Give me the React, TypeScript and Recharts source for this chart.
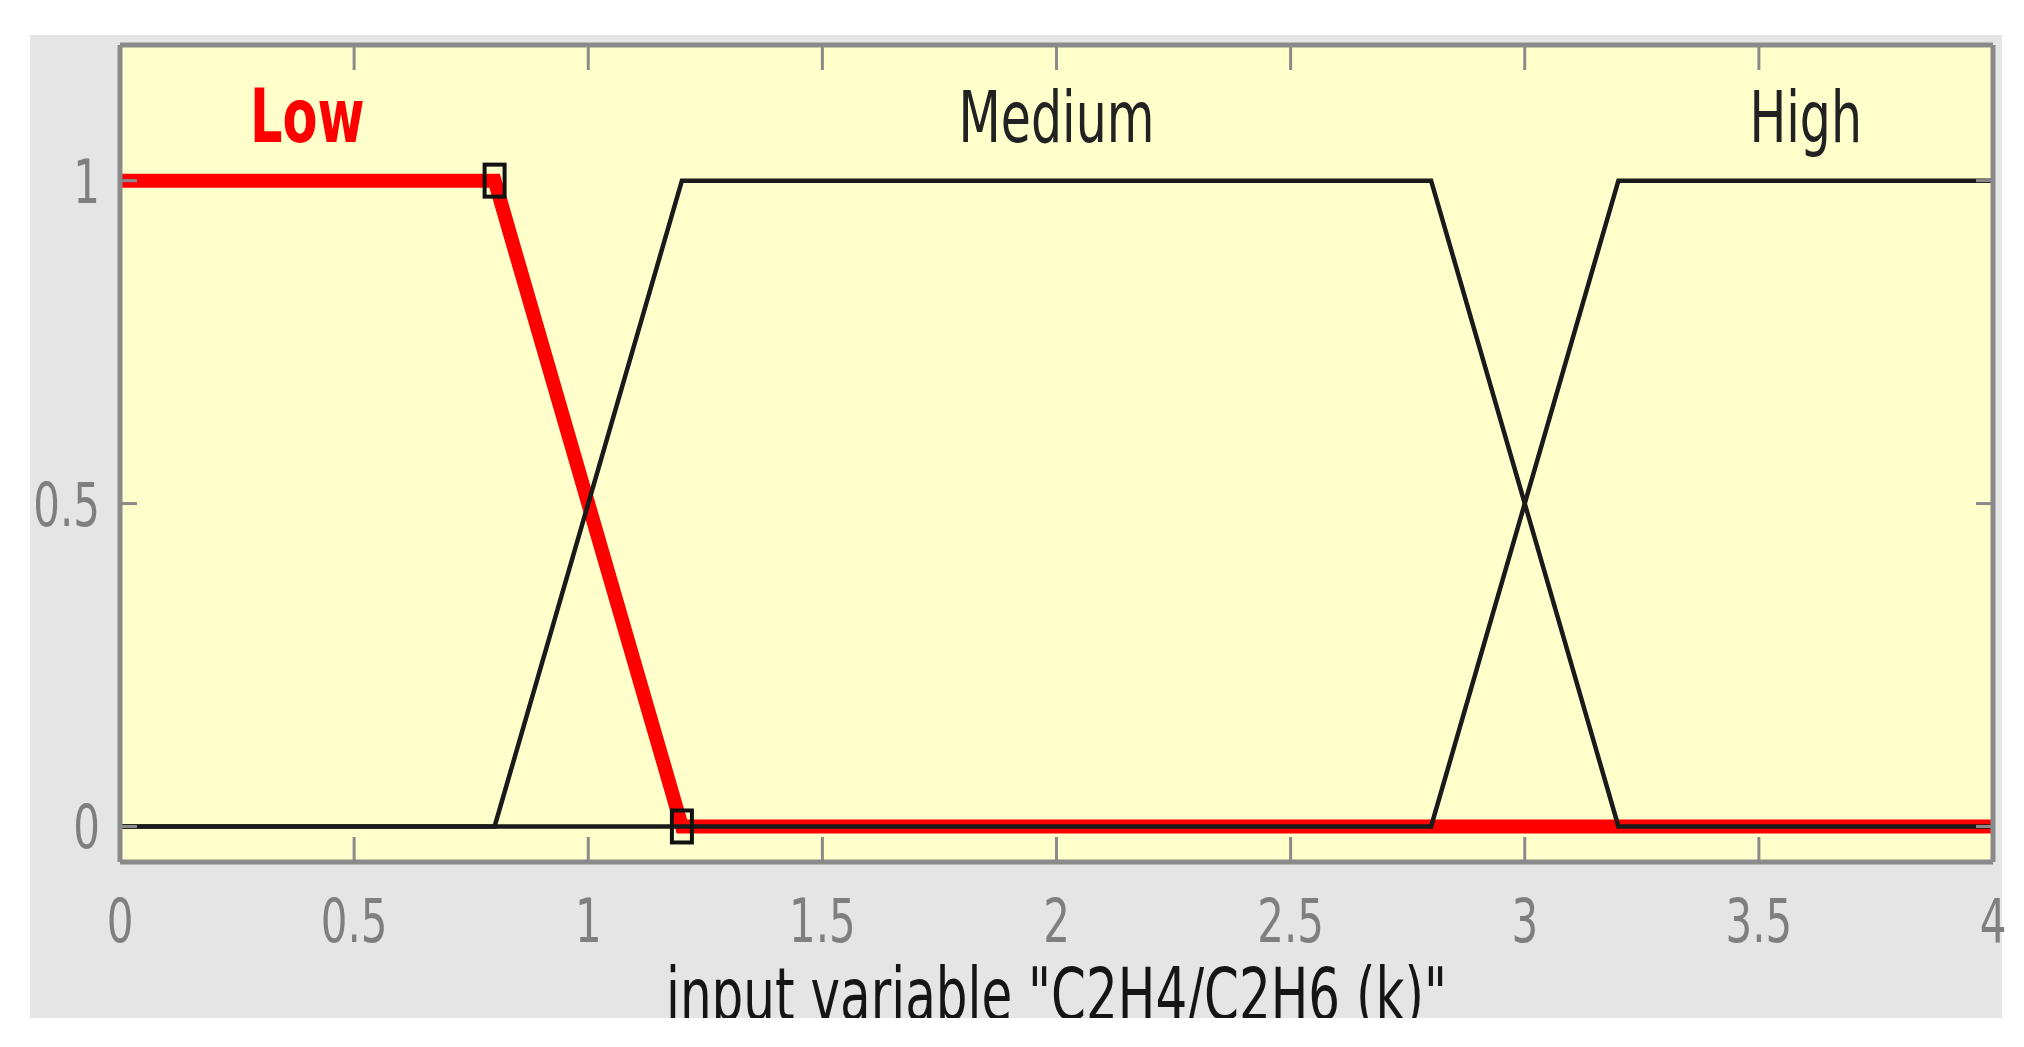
import React from 'react';
import { LineChart, Line, XAxis, YAxis, CartesianGrid, ReferenceDot, Label } from 'recharts';

// membership functions of input variable C2H4/C2H6 (k)
const xTicks = [0, 0.5, 1, 1.5, 2, 2.5, 3, 3.5, 4];
const yTicks = [0, 0.5, 1];

const lowX = [0, 0.8, 1.2, 4];
const lowY = [1, 1, 0, 0];
const mediumX = [0, 0.8, 1.2, 2.8, 3.2, 4];
const mediumY = [0, 0, 1, 1, 0, 0];
const highX = [0, 2.8, 3.2, 4];
const highY = [0, 0, 1, 1];

const mfNames = ['Low', 'Medium', 'High'];
const mfCenters = [0.4, 2, 3.6];
const labelLevel = 1.1;
const lowMarked = [1, 2];

const toPoints = (xs: number[], ys: number[]) => xs.map((x, i) => ({ x, y: ys[i] }));
const lowData = toPoints(lowX, lowY);
const mediumData = toPoints(mediumX, mediumY);
const highData = toPoints(highX, highY);

const FONT = '"DejaVu Sans", sans-serif';
const SY = 1.45; // source picture is stretched vertically
const BORDER = '#8a8a8a';
const TICK_TEXT = '#7f7f7f';

const StretchText = ({ x, y, size, fill, anchor = 'middle', weight = 'normal', children }: any) => (
  <text
    transform={`translate(${x},${y}) scale(1,${SY})`}
    x={0}
    y={0}
    textAnchor={anchor}
    fontSize={size}
    fontFamily={FONT}
    fontWeight={weight}
    fill={fill}
  >
    {children}
  </text>
);

const BottomTick = ({ x, y, payload }: any) => (
  <g>
    <line x1={x} y1={y} x2={x} y2={y - 25} stroke={BORDER} strokeWidth={3} />
    <StretchText x={x} y={y + 80} size={42} fill={TICK_TEXT}>
      {payload.value}
    </StretchText>
  </g>
);

const TopTick = ({ x, y }: any) => <line x1={x} y1={y} x2={x} y2={y + 25} stroke={BORDER} strokeWidth={3} />;

const LeftTick = ({ x, y, payload }: any) => (
  <g>
    <line x1={x} y1={y} x2={x + 17} y2={y} stroke={BORDER} strokeWidth={3} />
    <StretchText x={x - 20} y={y + 22} size={42} fill={TICK_TEXT} anchor="end">
      {payload.value}
    </StretchText>
  </g>
);

const RightTick = ({ x, y }: any) => <line x1={x} y1={y} x2={x - 17} y2={y} stroke={BORDER} strokeWidth={3} />;

// the axis title is clipped by the bottom of the figure, as in the source
const renderTitle = (props: any) => {
  const vb = props.viewBox;
  return (
    <StretchText x={vb.x + vb.width / 2} y={vb.y + 158} size={50} fill="#151515">
      input variable "C2H4/C2H6 (k)"
    </StretchText>
  );
};

const renderMarker = (props: any) => {
  const { cx, cy, index } = props;
  if (!lowMarked.includes(index)) return <g key={`m-${index}`} />;
  return (
    <rect
      key={`m-${index}`}
      x={cx - 10}
      y={cy - 16}
      width={20}
      height={32}
      fill="none"
      stroke="#111"
      strokeWidth={4}
    />
  );
};

const App = () => {
  return (
    <div style={{ position: 'absolute', left: 0, top: 0, width: 2024, height: 1047, background: '#fff' }}>
      <div style={{ position: 'absolute', left: 30, top: 35, width: 1972, height: 983, background: '#e5e5e5' }} />
      <div style={{ position: 'absolute', left: 0, top: 0 }}>
        <LineChart width={2024} height={1018} margin={{ top: 40, right: 21, bottom: 56, left: 20 }}>
          <CartesianGrid xAxisId="x" yAxisId="y" horizontal={false} vertical={false} fill="#ffffcc" />
          <XAxis
            xAxisId="x"
            type="number"
            dataKey="x"
            domain={[0, 4]}
            ticks={xTicks}
            allowDataOverflow
            height={100}
            tickSize={0}
            tickMargin={0}
            tickLine={false}
            tick={<BottomTick />}
            axisLine={{ stroke: BORDER, strokeWidth: 5 }}
            interval={0}
          >
            <Label content={renderTitle} />
          </XAxis>
          <XAxis
            xAxisId="xt"
            orientation="top"
            type="number"
            dataKey="x"
            domain={[0, 4]}
            ticks={xTicks}
            allowDataOverflow
            height={5}
            tickSize={0}
            tickMargin={0}
            tickLine={false}
            tick={<TopTick />}
            axisLine={{ stroke: BORDER, strokeWidth: 5 }}
            interval={0}
          />
          <YAxis
            yAxisId="y"
            type="number"
            domain={[-0.055, 1.21]}
            ticks={yTicks}
            allowDataOverflow
            width={100}
            tickSize={0}
            tickMargin={0}
            tickLine={false}
            tick={<LeftTick />}
            axisLine={{ stroke: BORDER, strokeWidth: 5 }}
            interval={0}
          />
          <YAxis
            yAxisId="yr"
            orientation="right"
            type="number"
            domain={[-0.055, 1.21]}
            ticks={yTicks}
            allowDataOverflow
            width={10}
            tickSize={0}
            tickMargin={0}
            tickLine={false}
            tick={<RightTick />}
            axisLine={{ stroke: BORDER, strokeWidth: 5 }}
            interval={0}
          />
          <Line
            xAxisId="x"
            yAxisId="y"
            data={lowData}
            dataKey="y"
            type="linear"
            stroke="#ff0000"
            strokeWidth={14}
            dot={false}
            isAnimationActive={false}
          />
          <Line
            xAxisId="x"
            yAxisId="y"
            data={mediumData}
            dataKey="y"
            type="linear"
            stroke="#1a1a1a"
            strokeWidth={4.5}
            dot={false}
            isAnimationActive={false}
          />
          <Line
            xAxisId="x"
            yAxisId="y"
            data={highData}
            dataKey="y"
            type="linear"
            stroke="#1a1a1a"
            strokeWidth={4.5}
            dot={false}
            isAnimationActive={false}
          />
          <Line
            xAxisId="x"
            yAxisId="y"
            data={lowData}
            dataKey="y"
            type="linear"
            stroke="none"
            dot={renderMarker}
            activeDot={false}
            isAnimationActive={false}
          />
          {mfNames.map((name, i) => (
            <ReferenceDot
              key={name}
              xAxisId="x"
              yAxisId="y"
              x={mfCenters[i]}
              y={labelLevel}
              r={0}
              shape={(p: any) => (
                <StretchText
                  x={p.cx}
                  y={p.cy + 26}
                  size={i === 0 ? 51 : 49}
                  fill={i === 0 ? '#ff0000' : '#222'}
                  weight={i === 0 ? 'bold' : 'normal'}
                >
                  {name}
                </StretchText>
              )}
            />
          ))}
        </LineChart>
      </div>
    </div>
  );
};

export default App;
